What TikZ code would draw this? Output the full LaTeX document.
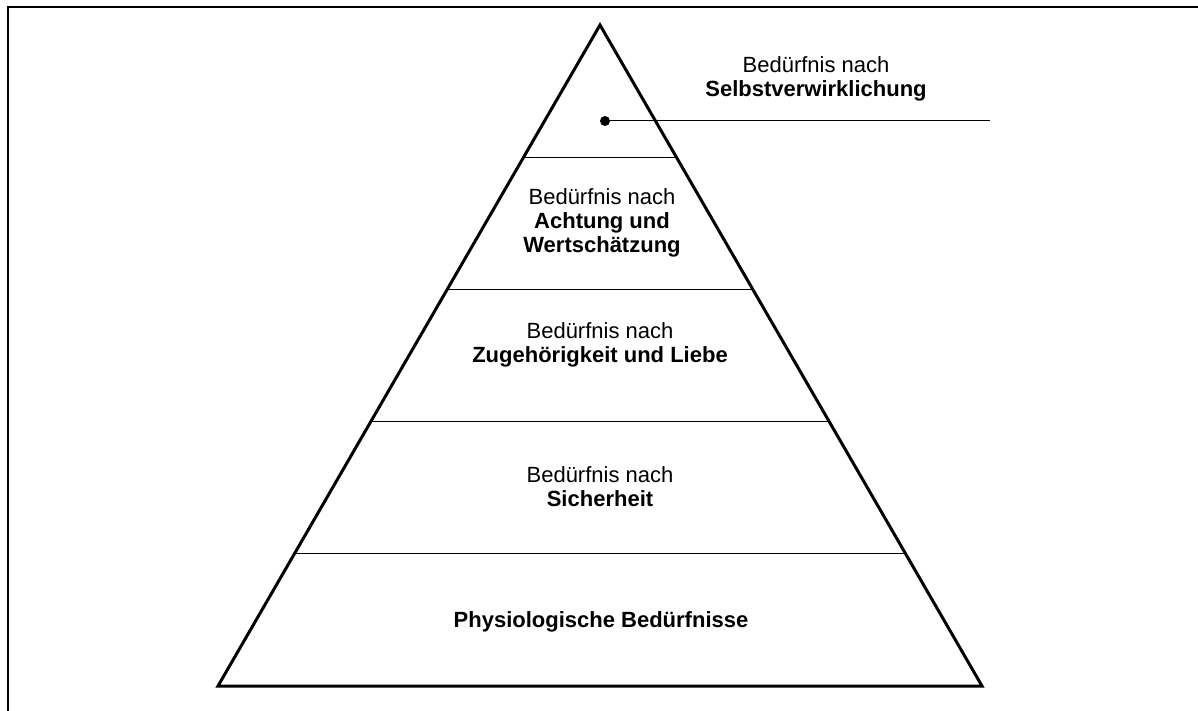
\documentclass[tikz,border=0pt]{standalone}
\usepackage{fontspec}
\setmainfont{Liberation Sans}
\usetikzlibrary{calc}

\begin{document}
\begin{tikzpicture}[x=0.5pt,y=-0.5pt,
  every node/.style={align=center,anchor=north,inner sep=0pt,font=\fontsize{11}{12}\selectfont},
  band/.style={line width=0.5pt}]
  \useasboundingbox (0,0) rectangle (1198,711);
  \draw[line width=1pt] (1198,7) -- (8,7) -- (8,711);
  \coordinate (apex) at (600,25);
  \coordinate (bl) at (218,686);
  \coordinate (br) at (982,686);
  \draw[line width=1.5pt] (bl) -- (apex) -- (br) -- cycle;
  \foreach \t in {0.2,0.4,0.6,0.8}
    \draw[band] ($(apex)!\t!(bl)$) -- ($(apex)!\t!(br)$);
  % pointer to the top label
  \coordinate (dot) at (605,121);
  \coordinate (tip) at (990,121);
  \fill (dot) circle (5);
  \draw[band] (dot) -- (tip);
  \node (self) at (816,56) {Bedürfnis nach\\\textbf{Selbstverwirklichung}};
  \node (esteem) at (602,188) {Bedürfnis nach\\\textbf{Achtung und}\\\textbf{Wertschätzung}};
  \node (love) at (600,322) {Bedürfnis nach\\\textbf{Zugehörigkeit und Liebe}};
  \node (safety) at (600,466) {Bedürfnis nach\\\textbf{Sicherheit}};
  \node (physio) at (601,611) {\textbf{Physiologische Bedürfnisse}};
\end{tikzpicture}
\end{document}
